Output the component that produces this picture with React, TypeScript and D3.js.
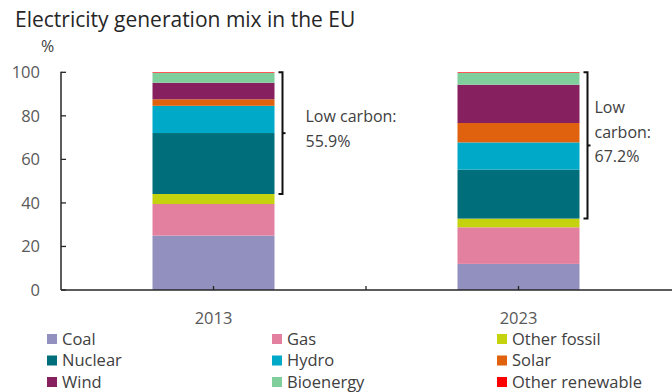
import React from "react";
import * as d3 from "d3";

const years = ["2013", "2023"];
const sources = ["Coal", "Gas", "Other fossil", "Nuclear", "Hydro", "Solar", "Wind", "Bioenergy", "Other renewable"];
const colors = ["#9290be", "#e3809f", "#c5d20e", "#006f7b", "#00a9c7", "#e0620f", "#86205f", "#7fcf9d", "#ff0000"];
const share2013 = [25.0, 14.5, 4.6, 28.0, 12.5, 3.0, 7.6, 4.5, 0.3];
const share2023 = [12.0, 16.8, 4.0, 22.5, 12.5, 8.9, 17.6, 5.4, 0.3];
const yTicks = [0, 20, 40, 60, 80, 100];
const lowCarbonLabels = [["Low carbon:", "55.9%"], ["Low", "carbon:", "67.2%"]];
const fossilCount = 3;

const W = 672, H = 392;
const FONT = "'Open Sans', Lato, sans-serif";

export default function App() {
  const rows = years.map((yr, i) => {
    const vals = i === 0 ? share2013 : share2023;
    const o: any = { year: yr };
    sources.forEach((s, j) => (o[s] = vals[j]));
    return o;
  });
  const x = d3.scaleBand().domain(years).range([61, 671]).padding(0);
  const y = d3.scaleLinear().domain([0, 100]).range([290, 72.3]);
  const barW = x.bandwidth() * 0.4;
  const stacked = d3.stack().keys(sources)(rows as any);

  const textCol = "#404040";

  return (
    <svg width={W} height={H} style={{ position: "absolute", left: 0, top: 0, background: "#fff" }} fontFamily={FONT}>
      <text x={15} y={27} fontSize={21} fill="#262626">Electricity generation mix in the EU</text>
      <text x={41} y={52} fontSize={16} fill={textCol}>%</text>

      {/* bars */}
      {stacked.map((layer, li) => (
        <g key={sources[li]} fill={colors[li]}>
          {layer.map((d: any, bi) => {
            const cx = x(years[bi])! + x.bandwidth() / 2;
            return (
              <rect key={bi} x={cx - barW / 2} width={barW} y={y(d[1])} height={Math.max(0, y(d[0]) - y(d[1]))} />
            );
          })}
        </g>
      ))}

      {/* y axis */}
      <line x1={61} x2={61} y1={y(100) - 0.5} y2={y(0)} stroke="#262626" strokeWidth={1.5} />
      {yTicks.map((t) => (
        <g key={t}>
          <line x1={61} x2={66} y1={y(t)} y2={y(t)} stroke="#262626" strokeWidth={1.3} />
          <text x={40} y={y(t)} dy="0.35em" textAnchor="end" fontSize={16.5} fill="#595959">{t}</text>
        </g>
      ))}

      {/* x axis */}
      <line x1={61} x2={672} y1={y(0)} y2={y(0)} stroke="#262626" strokeWidth={1.5} />
      {years.map((yr) => {
        const cx = x(yr)! + x.bandwidth() / 2;
        return (
          <g key={yr}>
            <line x1={cx} x2={cx} y1={y(0)} y2={y(0) - 4} stroke="#262626" strokeWidth={1.3} />
            <text x={cx} y={318} dy="0.35em" textAnchor="middle" fontSize={16.5} fill="#595959">{yr}</text>
          </g>
        );
      })}
      {years.slice(1).map((yr) => (
        <line key={"div" + yr} x1={x(yr)!} x2={x(yr)!} y1={y(0)} y2={y(0) - 4} stroke="#262626" strokeWidth={1.3} />
      ))}

      {/* low-carbon brackets */}
      {years.map((yr, i) => {
        const vals = i === 0 ? share2013 : share2023;
        const fossil = d3.sum(vals.slice(0, fossilCount));
        const total = d3.sum(vals);
        const bx = x(yr)! + x.bandwidth() / 2 + barW / 2 + 8;
        const yTop = y(total), yBot = y(fossil);
        const yMid = (yTop + yBot) / 2;
        const lines = lowCarbonLabels[i];
        const tx = i === 0 ? bx + 23 : bx + 7;
        const firstBase = i === 0 ? 122 : 113;
        return (
          <g key={"br" + yr}>
            <path d={`M${bx - 4},${yTop} H${bx} V${yBot} H${bx - 4}`} fill="none" stroke="#111" strokeWidth={2} />
            <line x1={bx} x2={bx + 3} y1={yMid} y2={yMid} stroke="#111" strokeWidth={2} />
            {lines.map((l, k) => (
              <text key={k} x={tx} y={firstBase + k * 24.5} fontSize={16} fill={textCol}>{l}</text>
            ))}
          </g>
        );
      })}

      {/* legend */}
      {sources.map((s, i) => {
        const col = i % 3, row = Math.floor(i / 3);
        const lx = [47, 272, 497][col];
        const ly = 339 + row * 21.5;
        return (
          <g key={s}>
            <rect x={lx} y={ly - 5} width={10} height={10} fill={colors[i]} />
            <text x={lx + 15} y={ly} dy="0.35em" fontSize={16.5} fill={textCol}>{s}</text>
          </g>
        );
      })}
    </svg>
  );
}
